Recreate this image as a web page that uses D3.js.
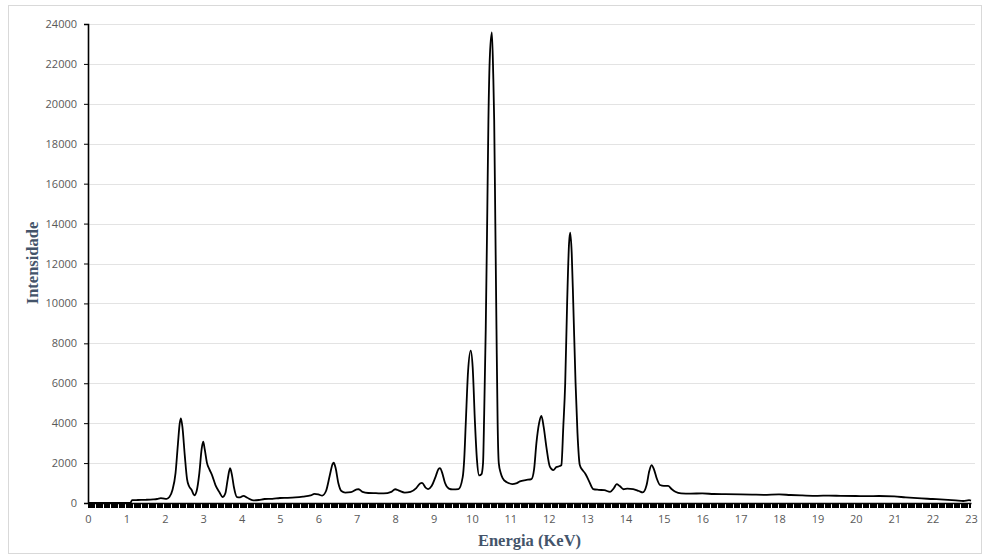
<!DOCTYPE html>
<html>
<head>
<meta charset="utf-8">
<script src="https://cdn.jsdelivr.net/npm/d3@7"></script>
<style>
  html, body { margin: 0; padding: 0; background: #fff; }
  svg { display: block; }
</style>
</head>
<body>
<svg id="chart" width="990" height="556"></svg>
<script>
// ---- data ----
const energies = [
  0, 1.1, 1.15, 1.3, 1.5, 1.7, 1.8, 1.9, 1.95, 2.05, 2.12, 2.2, 2.28, 2.34, 2.39, 2.42, 2.46, 2.52, 2.58, 2.63,
  2.7, 2.77, 2.83, 2.9, 2.96, 3.0, 3.04, 3.1, 3.16, 3.24, 3.32, 3.42, 3.51, 3.58, 3.64, 3.70, 3.75, 3.8, 3.88, 3.96,
  4.05, 4.15, 4.3, 4.45, 4.6, 4.8, 5.0, 5.2, 5.4, 5.6, 5.8, 5.9, 6.0, 6.1, 6.2, 6.3, 6.37, 6.4, 6.45, 6.52,
  6.6, 6.7, 6.85, 7.0, 7.05, 7.15, 7.3, 7.5, 7.7, 7.9, 8.0, 8.1, 8.25, 8.4, 8.55, 8.65, 8.7, 8.8, 8.86, 8.95,
  9.05, 9.13, 9.17, 9.22, 9.3, 9.4, 9.5, 9.65, 9.76, 9.8, 9.84, 9.9, 9.97, 10.02, 10.08, 10.13, 10.19, 10.25, 10.29, 10.32,
  10.36, 10.40, 10.43, 10.47, 10.52, 10.555, 10.58, 10.61, 10.64, 10.67, 10.7, 10.75, 10.8, 10.9, 10.95, 11.05, 11.15, 11.25, 11.4, 11.55,
  11.62, 11.68, 11.75, 11.81, 11.87, 11.94, 12.03, 12.12, 12.2, 12.29, 12.33, 12.38, 12.43, 12.48, 12.53, 12.56, 12.6, 12.64, 12.7, 12.75,
  12.81, 12.88, 12.95, 13.05, 13.16, 13.3, 13.45, 13.6, 13.7, 13.77, 13.85, 13.95, 14.05, 14.2, 14.35, 14.45, 14.55, 14.62, 14.68, 14.74,
  14.82, 14.9, 15.0, 15.11, 15.2, 15.3, 15.45, 15.7, 16.0, 16.3, 16.6, 17.0, 17.3, 17.6, 18.0, 18.3, 18.6, 19.0, 19.3, 19.6,
  20.0, 20.3, 20.6, 21.0, 21.3, 21.6, 22.0, 22.3, 22.6, 22.8, 22.95, 23.0
];
const intensities = [
  0, 0, 140, 150, 160, 180, 200, 240, 230, 210, 300, 650, 1500, 2900, 4000, 4240, 3800, 2400, 1200, 850,
  650, 380, 600, 1500, 2700, 3070, 2700, 2000, 1700, 1350, 900, 550, 300, 500, 1200, 1740, 1400, 800, 300, 280,
  360, 260, 130, 150, 200, 210, 250, 260, 280, 320, 380, 460, 430, 370, 600, 1400, 1950, 2020, 1750, 1000,
  600, 520, 540, 680, 690, 560, 500, 490, 480, 560, 690, 620, 520, 560, 750, 980, 1010, 760, 700, 850,
  1300, 1700, 1750, 1550, 1000, 720, 680, 700, 1300, 2200, 4000, 6600, 7630, 6800, 4000, 2200, 1380, 1450, 2000, 4500,
  8700, 14500, 19200, 22500, 23580, 21500, 19200, 14000, 8700, 4000, 2000, 1500, 1250, 1050, 1000, 950, 980, 1080, 1150, 1200,
  1700, 3000, 4000, 4360, 3800, 2800, 1820, 1650, 1800, 1850, 1900, 3800, 6000, 10000, 13000, 13540, 12500, 10000, 6000, 3500,
  1900, 1650, 1480, 1100, 700, 660, 640, 560, 750, 950, 850, 690, 720, 700, 600, 530, 900, 1600, 1900, 1700,
  1200, 900, 860, 860, 700, 560, 480, 470, 480, 450, 440, 430, 420, 410, 430, 400, 380, 360, 370, 360,
  350, 340, 350, 330, 280, 240, 200, 170, 130, 100, 140, 120
];
const yTicks = [0, 2000, 4000, 6000, 8000, 10000, 12000, 14000, 16000, 18000, 20000, 22000, 24000];
const xTicks = [0, 1, 2, 3, 4, 5, 6, 7, 8, 9, 10, 11, 12, 13, 14, 15, 16, 17, 18, 19, 20, 21, 22, 23];
const xTitle = "Energia (KeV)";
const yTitle = "Intensidade";

// ---- layout ----
const svg = d3.select("#chart");
const plot = { left: 88, right: 971, top: 24, bottom: 503 };

const x = d3.scaleLinear().domain([0, 23]).range([plot.left, plot.right]);
const y = d3.scaleLinear().domain([0, 24000]).range([plot.bottom, plot.top]);

// outer border
svg.append("rect")
  .attr("x", 8.5).attr("y", 5.5).attr("width", 973).attr("height", 548)
  .attr("fill", "#fff").attr("stroke", "#d9d9d9").attr("stroke-width", 1);

// gridlines
svg.append("g")
  .selectAll("line")
  .data(yTicks.filter(d => d > 0))
  .join("line")
  .attr("x1", plot.left).attr("x2", plot.right + 4)
  .attr("y1", d => Math.round(y(d)) + 0.5).attr("y2", d => Math.round(y(d)) + 0.5)
  .attr("stroke", "#e3e3e3").attr("stroke-width", 1.2);

// y axis
const yAxis = d3.axisLeft(y).tickValues(yTicks).tickSize(4).tickPadding(7).tickFormat(d3.format("d"));
const gy = svg.append("g").attr("transform", `translate(${plot.left},0)`).call(yAxis);
gy.select(".domain").attr("stroke", "#000").attr("stroke-width", 1.6);
gy.selectAll(".tick line").attr("stroke", "#000").attr("stroke-width", 1);
gy.selectAll(".tick text")
  .attr("font-family", "'Open Sans', 'Liberation Sans', sans-serif")
  .attr("font-size", 11).attr("fill", "#595959");

// x axis with dense channel ticks (dark band)
const channelTicks = d3.range(0, 23.0001, 0.03);
svg.append("g")
  .attr("shape-rendering", "crispEdges")
  .selectAll("line")
  .data(channelTicks)
  .join("line")
  .attr("x1", d => x(d)).attr("x2", d => x(d))
  .attr("y1", plot.bottom).attr("y2", plot.bottom + 5)
  .attr("stroke", "#000").attr("stroke-width", 1);

const xAxis = d3.axisBottom(x).tickValues(xTicks).tickSize(0).tickPadding(12).tickFormat(d3.format("d"));
const gx = svg.append("g").attr("transform", `translate(0,${plot.bottom})`).call(xAxis);
gx.select(".domain").attr("stroke", "#000").attr("stroke-width", 1.6);
gx.selectAll(".tick text")
  .attr("font-family", "'Open Sans', 'Liberation Sans', sans-serif")
  .attr("font-size", 11).attr("fill", "#595959");

// spectrum line
const pts = energies.map((e, i) => [e, intensities[i]]);
const line = d3.line().x(d => x(d[0])).y(d => y(d[1])).curve(d3.curveMonotoneX);
svg.append("path")
  .datum(pts)
  .attr("d", line)
  .attr("fill", "none")
  .attr("stroke", "#000")
  .attr("stroke-width", 1.8)
  .attr("stroke-linejoin", "round");

// axis titles
svg.append("text")
  .attr("x", (plot.left + plot.right) / 2).attr("y", 546)
  .attr("text-anchor", "middle")
  .attr("font-family", "'Liberation Serif', 'Times New Roman', serif")
  .attr("font-weight", "bold").attr("font-size", 16.5).attr("fill", "#44546a")
  .text(xTitle);

svg.append("text")
  .attr("transform", `translate(38,263) rotate(-90)`)
  .attr("text-anchor", "middle")
  .attr("font-family", "'Liberation Serif', 'Times New Roman', serif")
  .attr("font-weight", "bold").attr("font-size", 16.5).attr("fill", "#44546a")
  .text(yTitle);
</script>
</body>
</html>
